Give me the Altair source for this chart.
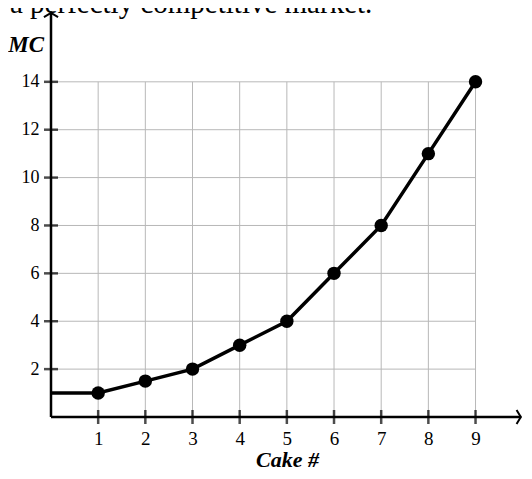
import altair as alt
import pandas as pd

# Data
cakes = [1, 2, 3, 4, 5, 6, 7, 8, 9]
mc = [1, 1.5, 2, 3, 4, 6, 8, 11, 14]
line_x = [0] + cakes
line_y = [1] + mc
y_ticks = [2, 4, 6, 8, 10, 12, 14]
x_title = "Cake #"
y_title = "MC"
top_text = "a perfectly competitive market."

PX_PER_X = 47.17
W, H = 472, 407
XDOM = W / PX_PER_X
XMAX, YMAX = 9.99, 17.0
FONT = "Liberation Serif"

xs = alt.Scale(domain=[0, XDOM], nice=False, zero=False)
ys = alt.Scale(domain=[0, YMAX], nice=False, zero=False)

pts = pd.DataFrame({"x": cakes, "y": mc})
line_df = pd.DataFrame({"x": line_x, "y": line_y})
xt = pd.DataFrame({"x": cakes})
yt = pd.DataFrame({"y": y_ticks})
one = pd.DataFrame({"a": [0]})

# vertical grid
vgrid = alt.Chart(xt).mark_rule(color="#b8b8b8", strokeWidth=1).encode(
    x=alt.X("x:Q", scale=xs, axis=alt.Axis(values=cakes, domain=False, ticks=False, grid=False,
                                          labelFont=FONT, labelFontSize=19, labelColor="black",
                                          labelPadding=12, title=x_title, titleFont=FONT,
                                          titleFontSize=22, titleFontStyle="italic",
                                          titleFontWeight="bold", titleColor="black",
                                          titleBaseline="alphabetic", titleY=49, titleX=236)),
    y=alt.datum(0),
    y2=alt.datum(14),
)
# horizontal grid
hgrid = alt.Chart(yt).mark_rule(color="#b8b8b8", strokeWidth=1).encode(
    y=alt.Y("y:Q", scale=ys, axis=alt.Axis(values=y_ticks, domain=False, ticks=False, grid=False,
                                          labelFont=FONT, labelFontSize=18, labelColor="black",
                                          labelPadding=12, title=None)),
    x=alt.datum(0),
    x2=alt.datum(9),
)

# axis lines
xaxis_line = alt.Chart(one).mark_rule(color="black", strokeWidth=2.5).encode(
    x=alt.datum(0), x2=alt.datum(XMAX - 0.02), y=alt.datum(0)
)
yaxis_line = alt.Chart(one).mark_rule(color="black", strokeWidth=2.5).encode(
    y=alt.datum(0), y2=alt.datum(YMAX - 0.05), x=alt.datum(0)
)

# ticks crossing axes
xticks = alt.Chart(xt).mark_tick(color="black", thickness=2.5, size=14, orient="vertical").encode(
    x=alt.X("x:Q", scale=xs), y=alt.datum(0)
)
yticks = alt.Chart(yt).mark_tick(color="black", thickness=2.5, size=14, orient="horizontal").encode(
    y=alt.Y("y:Q", scale=ys), x=alt.datum(0)
)

# arrow heads
up_arrow = alt.Chart(one).mark_point(
    shape="M-1,0.6L0,0L1,0.6", filled=False, color="black", strokeWidth=2, size=200, opacity=1
).encode(x=alt.datum(0), y=alt.datum(YMAX - 0.12))
right_arrow = alt.Chart(one).mark_point(
    shape="M-0.6,-1L0,0L-0.6,1", filled=False, color="black", strokeWidth=2, size=200, opacity=1
).encode(x=alt.datum(XMAX - 0.03), y=alt.datum(0))

line = alt.Chart(line_df).mark_line(color="black", strokeWidth=3.5).encode(
    x=alt.X("x:Q", scale=xs), y=alt.Y("y:Q", scale=ys)
)
points = alt.Chart(pts).mark_circle(color="black", size=180, opacity=1).encode(
    x=alt.X("x:Q", scale=xs), y=alt.Y("y:Q", scale=ys)
)

mc_label = alt.Chart(pd.DataFrame({"t": [y_title]})).mark_text(
    font=FONT, fontSize=23, fontStyle="italic", fontWeight="bold", align="right",
    baseline="alphabetic", color="black"
).encode(text="t:N", x=alt.value(-7), y=alt.value(42))

top_label = alt.Chart(pd.DataFrame({"t": [top_text]})).mark_text(
    font=FONT, fontSize=29, align="left", baseline="alphabetic", color="black"
).encode(text="t:N", x=alt.value(-41), y=alt.value(3))

chart = alt.layer(
    vgrid, hgrid, xaxis_line, yaxis_line, xticks, yticks, up_arrow, right_arrow,
    line, points, mc_label, top_label
).properties(
    width=W, height=H,
    autosize=alt.AutoSizeParams(type="none"),
    padding={"left": 43, "top": 2, "right": 0, "bottom": 53},
).configure_view(stroke=None)

chart.save("out.html", embed_options={"renderer": "svg", "actions": False})
